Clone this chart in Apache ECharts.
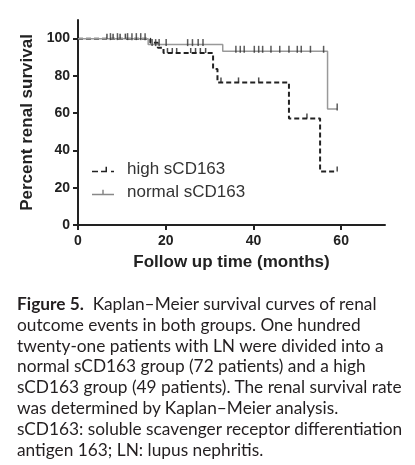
<!DOCTYPE html>
<html>
<head>
<meta charset="utf-8">
<script src="https://cdn.jsdelivr.net/npm/echarts@6/dist/echarts.min.js"></script>
<style>
  body { margin: 0; background: #fff; }
  .wrap { position: relative; width: 415px; height: 465px; }
  #chart { position: absolute; left: 0; top: 0; width: 415px; height: 465px; }
  .caption {
    position: absolute; left: 17px; top: 294px; width: 398px;
    font-family: Lato, "Open Sans", sans-serif; font-size: 17.3px;
    line-height: 20.8px; color: #231f20; white-space: nowrap;
  }
  .caption b { font-weight: 700; }
</style>
</head>
<body>
<div class="wrap">
  <div id="chart"></div>
  <div class="caption">
    <b>Figure 5.</b>&nbsp; Kaplan–Meier survival curves of renal<br>
    outcome events in both groups. One hundred<br>
    twenty-one patients with LN were divided into a<br>
    normal sCD163 group (72 patients) and a high<br>
    sCD163 group (49 patients). The renal survival rate<br>
    was determined by Kaplan–Meier analysis.<br>
    sCD163: soluble scavenger receptor differentiation<br>
    antigen 163; LN: lupus nephritis.
  </div>
</div>
<script>
  // Kaplan-Meier steps (months, % surviving)
  var highTimes = [0, 16.5, 18.2, 19.5, 30.8, 31.8, 48.1, 55.2, 59.1];
  var highSurv = [100, 97.8, 95.1, 92.3, 83.7, 76.5, 57.2, 28.7, 28.7];
  var normalTimes = [0, 16.0, 33.0, 56.9, 59.1];
  var normalSurv = [100, 96.8, 93.2, 62.2, 62.2];

  // censored patients (months)
  var highCensor = [6.6, 8.0, 9.6, 10.8, 20.4, 21.5, 22.5, 25.7, 26.8, 27.9, 29.1, 32.6, 36.6, 41.2, 52.2, 59.1];
  var normalCensor = [7.4, 9.0, 11.3, 12.3, 13.3, 14.3, 15.3, 16.9, 17.7, 18.5, 20.1, 25.0, 26.1, 27.4, 28.5,
    36.0, 37.0, 37.9, 40.2, 41.2, 42.1, 44.0, 46.0, 48.1, 50.0, 50.9, 53.0, 56.0, 59.1];

  var xTicks = [0, 20, 40, 60];
  var yTicks = [0, 20, 40, 60, 80, 100];

  function survAt(times, surv, t) {
    var s = surv[0];
    for (var i = 0; i < times.length; i++) {
      if (times[i] <= t) s = surv[i];
    }
    return s;
  }
  function pairs(xs, ys) {
    return xs.map(function (x, i) { return [x, ys[i]]; });
  }
  function censorPoints(times, surv, cens) {
    return cens.map(function (t) { return [t, survAt(times, surv, t)]; });
  }

  var fam = 'Liberation Sans, Arial, sans-serif';
  var axisFont = { fontFamily: fam, fontWeight: 'bold', fontSize: 14, color: '#222' };
  var nameFont = { fontFamily: fam, fontWeight: 'bold', fontSize: 17, color: '#222' };

  var chart = echarts.init(document.getElementById('chart'));
  chart.setOption({
    animation: false,
    grid: { left: 78, right: 30, top: 20, bottom: 240, outerBoundsMode: 'none' },
    legend: {
      orient: 'vertical',
      left: 92,
      top: 161,
      padding: 0,
      itemWidth: 22,
      itemHeight: 8,
      itemGap: 6,
      selectedMode: false,
      textStyle: { fontFamily: fam, fontSize: 17, color: '#333', padding: [0, 0, 0, 8] },
      data: [
        { name: 'high sCD163', icon: 'path://M0,6h6v1.5h-6z M9,6h6v1.5h-6z M13.5,2h1.5v5.5h-1.5z M19,6h3v1.5h-3z', itemStyle: { color: '#222' } },
        { name: 'normal sCD163', icon: 'path://M0,6h22v1.5h-22z M10.25,2h1.5v5.5h-1.5z', itemStyle: { color: '#888' } }
      ]
    },
    xAxis: {
      type: 'value',
      min: 0,
      max: 70,
      name: 'Follow up time (months)',
      nameLocation: 'middle',
      nameGap: 29,
      nameTextStyle: nameFont,
      splitLine: { show: false },
      axisLine: { lineStyle: { color: '#222', width: 2 } },
      axisTick: { length: 5, lineStyle: { color: '#222', width: 2 }, customValues: xTicks },
      axisLabel: Object.assign({ margin: 9, customValues: xTicks }, axisFont)
    },
    yAxis: {
      type: 'value',
      min: 0,
      max: 110,
      name: 'Percent renal survival',
      nameLocation: 'middle',
      nameGap: 40,
      nameTextStyle: nameFont,
      splitLine: { show: false },
      axisLine: { show: true, lineStyle: { color: '#222', width: 2 } },
      axisTick: { show: true, length: 5, lineStyle: { color: '#222', width: 2 }, customValues: yTicks },
      axisLabel: Object.assign({ margin: 8, customValues: yTicks }, axisFont)
    },
    series: [
      {
        name: 'high sCD163',
        type: 'line',
        step: 'end',
        symbol: 'none',
        silent: true,
        z: 2,
        lineStyle: { color: '#222', width: 2, type: [5, 3] },
        itemStyle: { color: '#222' },
        data: pairs(highTimes, highSurv)
      },
      {
        name: 'normal sCD163',
        type: 'line',
        step: 'end',
        symbol: 'none',
        silent: true,
        z: 3,
        lineStyle: { color: '#999', width: 1.5 },
        itemStyle: { color: '#888' },
        data: pairs(normalTimes, normalSurv)
      },
      {
        name: 'normal censored',
        type: 'scatter',
        symbol: 'rect',
        symbolSize: [1.5, 7],
        symbolOffset: [0, -2],
        silent: true,
        z: 4,
        itemStyle: { color: '#333' },
        data: censorPoints(normalTimes, normalSurv, normalCensor)
      },
      {
        name: 'high censored',
        type: 'scatter',
        symbol: 'rect',
        symbolSize: [1.5, 5],
        symbolOffset: [0, -2.5],
        silent: true,
        z: 4,
        itemStyle: { color: '#222' },
        data: censorPoints(highTimes, highSurv, highCensor)
      }
    ]
  });
</script>
</body>
</html>
